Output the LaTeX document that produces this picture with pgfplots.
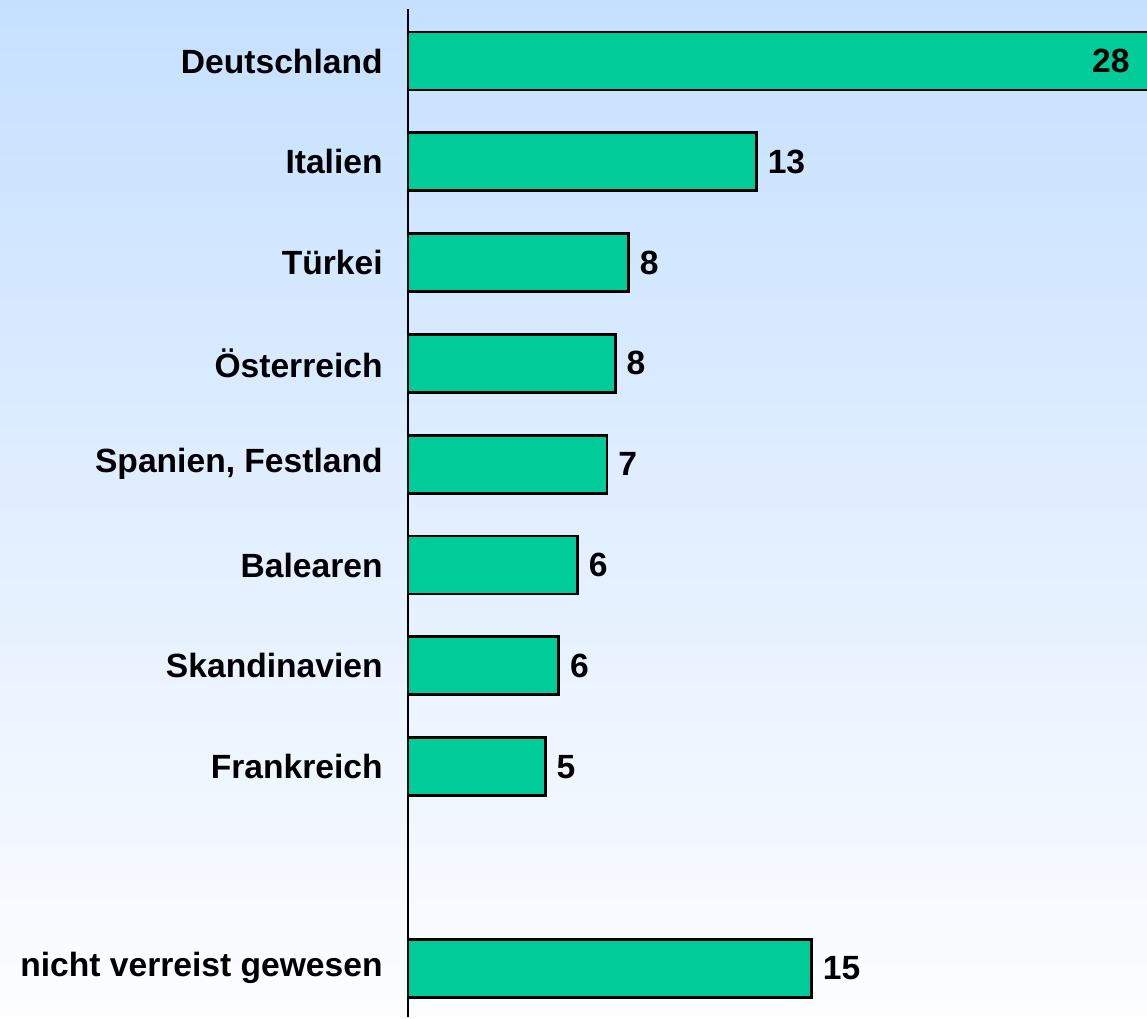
\documentclass[border=0pt]{standalone}
\usepackage{fontspec}
\setmainfont{Liberation Sans}
\usepackage{pgfplots}
\pgfplotsset{compat=1.18}
\definecolor{bargreen}{HTML}{00CC99}
\definecolor{bgtop}{HTML}{C5E0FF}
\definecolor{bgbot}{HTML}{FDFDFF}
\begin{document}
\begin{tikzpicture}[x=1pt,y=1pt]
\fill[top color=bgtop, bottom color=bgbot] (0,0) rectangle (573.5,508.5);
\begin{axis}[
  at={(204pt,0pt)}, anchor=south west,
  scale only axis,
  width=369.5pt, height=504pt,
  xbar, bar width=29pt, bar shift=0pt,
  xmin=0, xmax=27.47,
  y dir=reverse,
  ymin=-0.516, ymax=9.484,
  axis x line=none,
  axis y line*=left,
  axis line style={line width=1.4pt, -},
  ytick={0,1,2,3,4,5,6,7,9},
  yticklabels={Deutschland,Italien,Türkei,Österreich,{Spanien, Festland},Balearen,Skandinavien,Frankreich,nicht verreist gewesen},
  major tick length=0pt,
  yticklabel style={inner sep=0pt, anchor=east, xshift=-12.5pt, font=\fontsize{16.8}{20}\selectfont\bfseries},
  nodes near coords,
  point meta=explicit symbolic,
  nodes near coords style={font=\fontsize{16.8}{20}\selectfont\bfseries, inner sep=0pt, anchor=west, xshift=5pt, text=black},
]
\addplot[fill=bargreen, draw=black, line width=1.4pt] coordinates {
  (12.95,1) [13]
  (8.2,2) [8]
  (7.7,3) [8]
  (7.4,4) [7]
  (6.3,5) [6]
  (5.6,6) [6]
  (5.1,7) [5]
  (15.0,9) [15]
};
\addplot[fill=bargreen, draw=black, line width=1.4pt, nodes near coords=false] coordinates {
  (28,0)
};
\node[anchor=east, inner sep=0pt, xshift=-8.5pt, font=\fontsize{16.8}{20}\selectfont\bfseries] at (axis cs:27.47,0) {28};
\end{axis}
\end{tikzpicture}
\end{document}
